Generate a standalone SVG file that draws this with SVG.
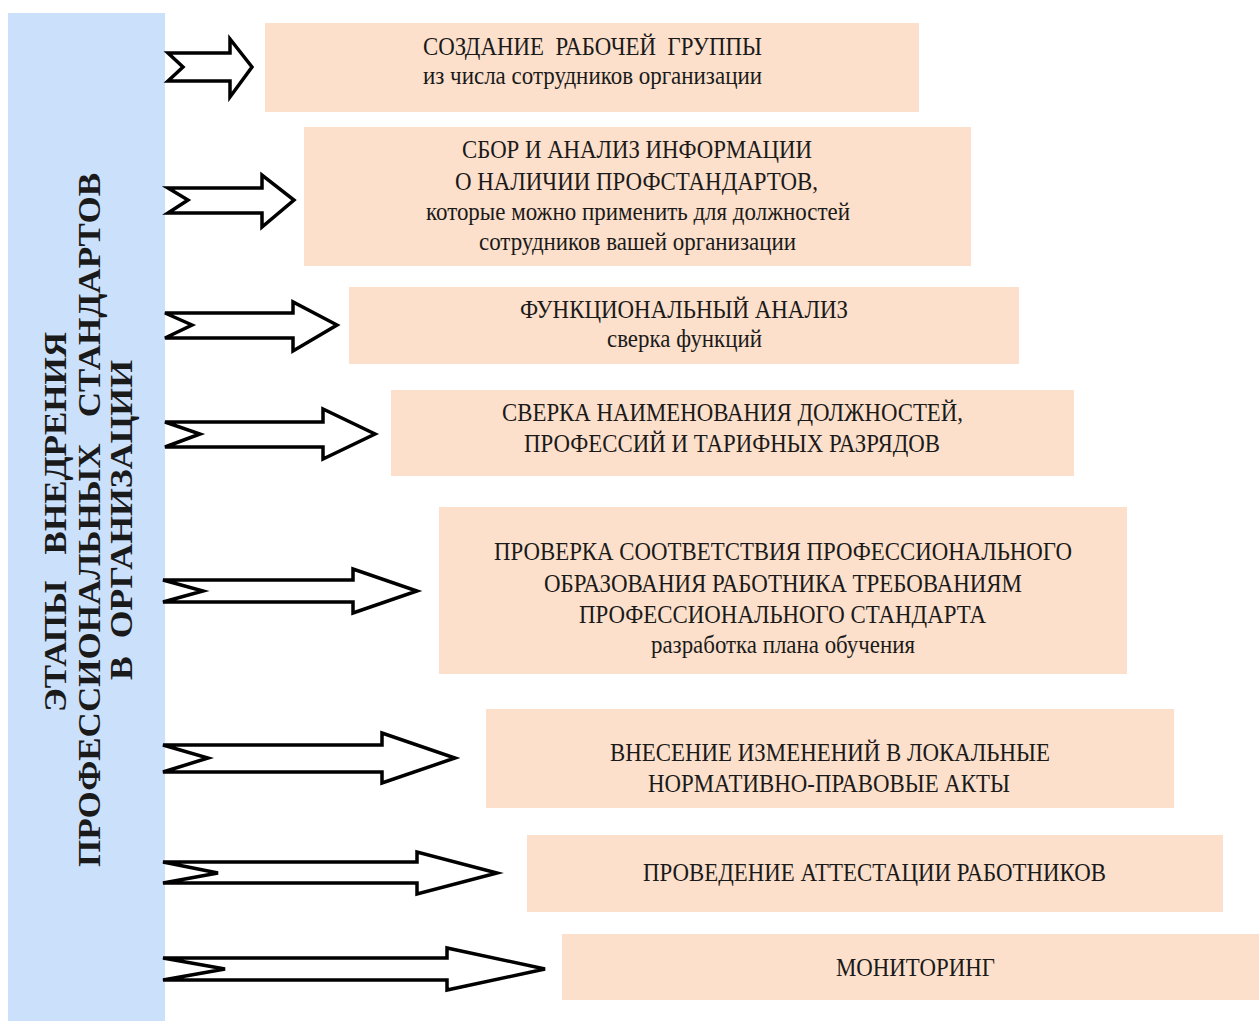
<svg xmlns="http://www.w3.org/2000/svg" width="1259" height="1021" viewBox="0 0 1259 1021">
<style>
.box{fill:#fde0cb}
.t{font-family:"Liberation Serif","Times New Roman",serif;font-size:25px;fill:#1a1a1a;white-space:pre}
.v{font-family:"Liberation Serif","Times New Roman",serif;font-size:32px;font-weight:bold;fill:#1a1a1a;white-space:pre}
.arr{fill:#ffffff;stroke:#000;stroke-width:3.5;stroke-linejoin:miter}
</style>
<rect width="1259" height="1021" fill="#ffffff"/>
<g id="panel">
<rect x="8" y="13" width="157" height="1008" fill="#cbe0fb"/>
<text class="v" xml:space="preserve" transform="translate(66,522) rotate(-90)" text-anchor="middle" textLength="380" lengthAdjust="spacingAndGlyphs">ЭТАПЫ   ВНЕДРЕНИЯ</text>
<text class="v" xml:space="preserve" transform="translate(100,520) rotate(-90)" text-anchor="middle" textLength="694" lengthAdjust="spacingAndGlyphs">ПРОФЕССИОНАЛЬНЫХ   СТАНДАРТОВ</text>
<text class="v" xml:space="preserve" transform="translate(132,520) rotate(-90)" text-anchor="middle" textLength="320" lengthAdjust="spacingAndGlyphs">В  ОРГАНИЗАЦИИ</text>
</g>
<g id="connectors">
<polygon class="arr" points="168,53 230,53 230,39 252,67 230,97 230,81 168,81 183,67"/>
<polygon class="arr" points="168,188 262,188 262,175 294,200 262,227 262,213 168,213 188,200"/>
<polygon class="arr" points="165,313 293,313 293,302 337,325 293,351 293,338 165,338 192,325"/>
<polygon class="arr" points="165,422 323,422 323,409 375,434 323,459 323,447 165,447 200,434"/>
<polygon class="arr" points="163,580 353,580 353,569 417,591 353,613 353,602 163,602 203,591"/>
<polygon class="arr" points="163,745 382,745 382,733 455,758 382,783 382,772 163,772 208,758"/>
<polygon class="arr" points="163,862 417,862 417,852 497,873 417,894 417,883 163,883 218,873"/>
<polygon class="arr" points="163,958 447,958 447,948 545,969 447,990 447,980 163,980 225,969"/>
</g>
<g id="node1">
<rect class="box" x="265" y="23" width="654" height="89"/>
<text class="t" xml:space="preserve" x="423" y="55" textLength="339" lengthAdjust="spacingAndGlyphs">СОЗДАНИЕ  РАБОЧЕЙ  ГРУППЫ</text>
<text class="t" x="423" y="84" textLength="339" lengthAdjust="spacingAndGlyphs">из числа сотрудников организации</text>
</g>
<g id="node2">
<rect class="box" x="304" y="127" width="667" height="139"/>
<text class="t" x="462" y="158" textLength="350" lengthAdjust="spacingAndGlyphs">СБОР И АНАЛИЗ ИНФОРМАЦИИ</text>
<text class="t" x="455" y="190" textLength="363" lengthAdjust="spacingAndGlyphs">О НАЛИЧИИ ПРОФСТАНДАРТОВ,</text>
<text class="t" x="426" y="220" textLength="424" lengthAdjust="spacingAndGlyphs">которые можно применить для должностей</text>
<text class="t" x="479" y="250" textLength="317" lengthAdjust="spacingAndGlyphs">сотрудников вашей организации</text>
</g>
<g id="node3">
<rect class="box" x="349" y="287" width="670" height="77"/>
<text class="t" x="520" y="318" textLength="328" lengthAdjust="spacingAndGlyphs">ФУНКЦИОНАЛЬНЫЙ АНАЛИЗ</text>
<text class="t" x="607" y="347" textLength="155" lengthAdjust="spacingAndGlyphs">сверка функций</text>
</g>
<g id="node4">
<rect class="box" x="391" y="390" width="683" height="86"/>
<text class="t" x="502" y="421" textLength="461" lengthAdjust="spacingAndGlyphs">СВЕРКА НАИМЕНОВАНИЯ ДОЛЖНОСТЕЙ,</text>
<text class="t" x="524" y="452" textLength="416" lengthAdjust="spacingAndGlyphs">ПРОФЕССИЙ И ТАРИФНЫХ РАЗРЯДОВ</text>
</g>
<g id="node5">
<rect class="box" x="439" y="507" width="688" height="167"/>
<text class="t" x="494" y="560" textLength="578" lengthAdjust="spacingAndGlyphs">ПРОВЕРКА СООТВЕТСТВИЯ ПРОФЕССИОНАЛЬНОГО</text>
<text class="t" x="544" y="592" textLength="478" lengthAdjust="spacingAndGlyphs">ОБРАЗОВАНИЯ РАБОТНИКА ТРЕБОВАНИЯМ</text>
<text class="t" x="579" y="623" textLength="407" lengthAdjust="spacingAndGlyphs">ПРОФЕССИОНАЛЬНОГО СТАНДАРТА</text>
<text class="t" x="651" y="653" textLength="264" lengthAdjust="spacingAndGlyphs">разработка плана обучения</text>
</g>
<g id="node6">
<rect class="box" x="486" y="709" width="688" height="99"/>
<text class="t" x="610" y="761" textLength="440" lengthAdjust="spacingAndGlyphs">ВНЕСЕНИЕ ИЗМЕНЕНИЙ В ЛОКАЛЬНЫЕ</text>
<text class="t" x="648" y="792" textLength="362" lengthAdjust="spacingAndGlyphs">НОРМАТИВНО-ПРАВОВЫЕ АКТЫ</text>
</g>
<g id="node7">
<rect class="box" x="527" y="835" width="696" height="77"/>
<text class="t" x="643" y="881" textLength="463" lengthAdjust="spacingAndGlyphs">ПРОВЕДЕНИЕ АТТЕСТАЦИИ РАБОТНИКОВ</text>
</g>
<g id="node8">
<rect class="box" x="562" y="934" width="697" height="66"/>
<text class="t" x="836" y="976" textLength="159" lengthAdjust="spacingAndGlyphs">МОНИТОРИНГ</text>
</g>
</svg>
